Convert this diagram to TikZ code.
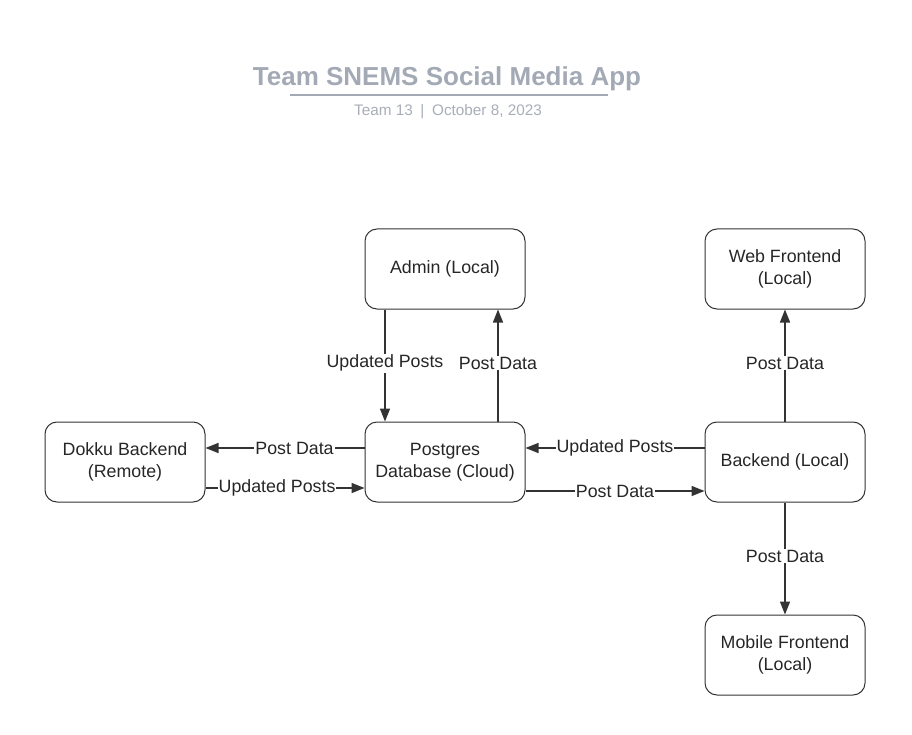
\documentclass[tikz,border=0pt]{standalone}
\usepackage{fontspec}
\setmainfont{Liberation Sans}
\usetikzlibrary{arrows.meta}
\definecolor{titlegray}{HTML}{A3A9B5}
\definecolor{subgray}{HTML}{A8ADB8}
\definecolor{linegray}{HTML}{333333}
\begin{document}
\begin{tikzpicture}[x=1pt,y=-1pt,
  box/.style={draw=linegray,line width=1pt,rounded corners=12pt,minimum width=160pt,minimum height=80pt,inner sep=0pt,align=center,font=\fontsize{17.8}{22}\selectfont,text=black!85},
  conn/.style={draw=linegray,line width=1.5pt,-{Triangle[length=13pt,width=10pt]}},
  lbl/.style={fill=white,inner sep=1pt,font=\fontsize{17.8}{20}\selectfont,text=black!85}]
\path[use as bounding box] (0,0) rectangle (912,735);
% title
\node[font=\bfseries\fontsize{26}{30}\selectfont,text=titlegray] (title) at (447,79) {Team SNEMS Social Media App};
\coordinate (ulA) at (290,95);
\coordinate (ulB) at (608,95);
\draw[titlegray,line width=1.5pt] (ulA) -- (ulB);
\node[font=\fontsize{15.3}{18}\selectfont,text=subgray] (sub) at (448,112) {Team 13\enspace|\enspace October 8, 2023};
% nodes
\node[box] (admin) at (445,269) {Admin (Local)};
\node[box] (web) at (785,269) {Web Frontend\\(Local)};
\node[box] (dokku) at (125,462) {Dokku Backend\\(Remote)};
\node[box] (pg) at (445,462) {Postgres\\Database (Cloud)};
\node[box] (be) at (785,462) {Backend (Local)};
\node[box] (mob) at (785,655) {Mobile Frontend\\(Local)};
% connectors
\draw[conn] ([xshift=-60pt]admin.south) -- node[lbl,pos=0.48]{Updated Posts} ([xshift=-60pt]pg.north);
\draw[conn] ([xshift=53pt]pg.north) -- node[lbl,pos=0.52]{Post Data} ([xshift=53pt]admin.south);
\draw[conn] ([yshift=14pt]pg.west) -- node[lbl,pos=0.44]{Post Data} ([yshift=14pt]dokku.east);
\draw[conn] ([yshift=-26pt]dokku.east) -- node[lbl,pos=0.45]{Updated Posts} ([yshift=-26pt]pg.west);
\draw[conn] ([yshift=14pt]be.west) -- node[lbl,pos=0.5]{Updated Posts} ([yshift=14pt]pg.east);
\draw[conn] ([yshift=-29pt]pg.east) -- node[lbl,pos=0.5]{Post Data} ([yshift=-29pt]be.west);
\draw[conn] (be.north) -- node[lbl,pos=0.52]{Post Data} (web.south);
\draw[conn] (be.south) -- node[lbl,pos=0.48]{Post Data} (mob.north);
\end{tikzpicture}
\end{document}
